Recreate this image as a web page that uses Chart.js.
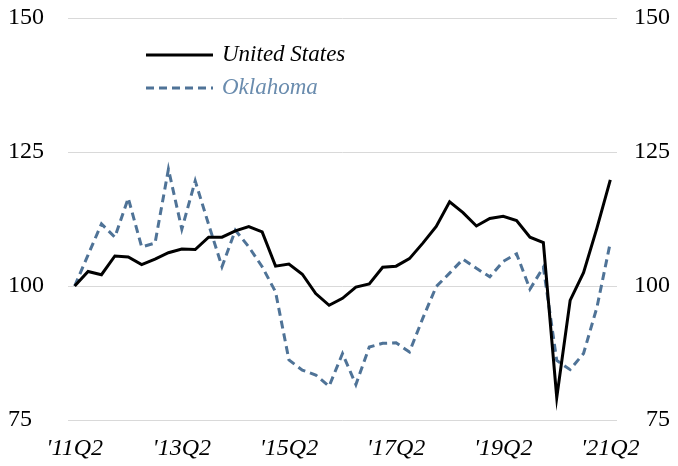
<!DOCTYPE html>
<html>
<head>
<meta charset="utf-8">
<script src="https://cdn.jsdelivr.net/npm/chart.js@4/dist/chart.umd.min.js"></script>
<style>
  html, body { margin: 0; padding: 0; background: #fff; }
  #wrap { width: 678px; height: 466px; }
</style>
</head>
<body>
<div id="wrap"><canvas id="jobsChart" width="678" height="466"></canvas></div>
<script>
// quarterly index, 2011Q2 = 100
const quarters = [
    "'11Q2", "'11Q3", "'11Q4", "'12Q1", "'12Q2", "'12Q3", "'12Q4", "'13Q1",
    "'13Q2", "'13Q3", "'13Q4", "'14Q1", "'14Q2", "'14Q3", "'14Q4", "'15Q1",
    "'15Q2", "'15Q3", "'15Q4", "'16Q1", "'16Q2", "'16Q3", "'16Q4", "'17Q1",
    "'17Q2", "'17Q3", "'17Q4", "'18Q1", "'18Q2", "'18Q3", "'18Q4", "'19Q1",
    "'19Q2", "'19Q3", "'19Q4", "'20Q1", "'20Q2", "'20Q3", "'20Q4", "'21Q1",
    "'21Q2"
];

const unitedStates = [
    100, 102.7, 102.1, 105.6, 105.4, 104.0, 105.0, 106.2, 106.9, 106.8,
    109.1, 109.1, 110.3, 111.1, 110.1, 103.7, 104.1, 102.2, 98.6, 96.4,
    97.7, 99.8, 100.4, 103.5, 103.7, 105.1, 108.0, 111.1, 115.7, 113.7,
    111.2, 112.6, 113.0, 112.2, 109.1, 108.1, 79.2, 97.3, 102.5, 110.8,
    119.8
];

const oklahoma = [
    100, 105.8, 111.6, 109.1, 116.4, 107.3, 108.0, 121.8, 110.6, 119.6,
    111.5, 103.6, 110.4, 107.3, 103.6, 98.9, 86.2, 84.3, 83.4, 81.3,
    87.4, 81.6, 88.6, 89.3, 89.4, 87.7, 94.0, 99.9, 102.4, 105.0,
    103.3, 101.7, 104.6, 106.0, 99.4, 103.5, 86.1, 84.4, 87.4, 96.0,
    108.1
];

const yTicks = [75, 100, 125, 150];
const labelEvery = 8;

const usColor = '#000000';
const okColor = '#4f7397';
const okTextColor = '#6a8cae';
const serif = "'Liberation Serif', 'DejaVu Serif', serif";

// legend drawn inside the plot, stacked vertically
const insideLegend = {
    id: 'insideLegend',
    afterDraw(chart) {
        const ctx = chart.ctx;
        const x0 = 146, x1 = 213, tx = 222;
        const rows = [55, 88];
        ctx.save();
        ctx.font = 'italic 23px ' + serif;
        ctx.textBaseline = 'middle';
        chart.data.datasets.forEach(function (ds, i) {
            const y = rows[i];
            ctx.beginPath();
            ctx.strokeStyle = ds.borderColor;
            ctx.lineWidth = ds.borderWidth;
            ctx.setLineDash(ds.borderDash || []);
            ctx.moveTo(x0, y);
            ctx.lineTo(x1, y);
            ctx.stroke();
            ctx.setLineDash([]);
            ctx.fillStyle = ds.legendText;
            ctx.fillText(ds.label, tx, y);
        });
        ctx.restore();
    }
};

let ctx = document.getElementById('jobsChart').getContext('2d');
let chart = new Chart(ctx, {
    type: 'line',
    data: {
        labels: quarters,
        datasets: [{
            label: 'United States',
            data: unitedStates,
            borderColor: usColor,
            legendText: usColor,
            borderWidth: 3,
            pointRadius: 0,
            tension: 0,
            yAxisID: 'y'
        }, {
            label: 'Oklahoma',
            data: oklahoma,
            borderColor: okColor,
            legendText: okTextColor,
            borderWidth: 3,
            borderDash: [8, 5],
            pointRadius: 0,
            tension: 0,
            yAxisID: 'y'
        }]
    },
    options: {
        responsive: false,
        animation: false,
        layout: { padding: { top: 18, left: 8, right: 8, bottom: 0 } },
        plugins: {
            legend: { display: false },
            tooltip: { enabled: false }
        },
        scales: {
            x: {
                offset: true,
                grid: { display: false, drawTicks: false },
                border: { display: false },
                ticks: {
                    autoSkip: false,
                    maxRotation: 0,
                    padding: 14,
                    color: '#000',
                    font: { family: serif, size: 24, style: 'italic' },
                    callback: function (val, i) {
                        return i % labelEvery === 0 ? quarters[i] : '';
                    }
                },
                afterFit: function (scale) { scale.height = 46; }
            },
            y: {
                position: 'left',
                min: 75,
                max: 150,
                afterBuildTicks: function (scale) {
                    scale.ticks = yTicks.map(v => ({ value: v }));
                },
                grid: { color: '#d9d9d9', lineWidth: 1, drawTicks: false },
                border: { display: false },
                ticks: {
                    padding: 0,
                    crossAlign: 'far',
                    color: '#000',
                    font: { family: serif, size: 24 }
                },
                afterFit: function (scale) { scale.width = 60; }
            },
            y2: {
                position: 'right',
                min: 75,
                max: 150,
                afterBuildTicks: function (scale) {
                    scale.ticks = yTicks.map(v => ({ value: v }));
                },
                grid: { display: false, drawTicks: false },
                border: { display: false },
                ticks: {
                    padding: 0,
                    crossAlign: 'far',
                    color: '#000',
                    font: { family: serif, size: 24 }
                },
                afterFit: function (scale) { scale.width = 53; }
            }
        }
    },
    plugins: [insideLegend]
});
</script>
</body>
</html>
